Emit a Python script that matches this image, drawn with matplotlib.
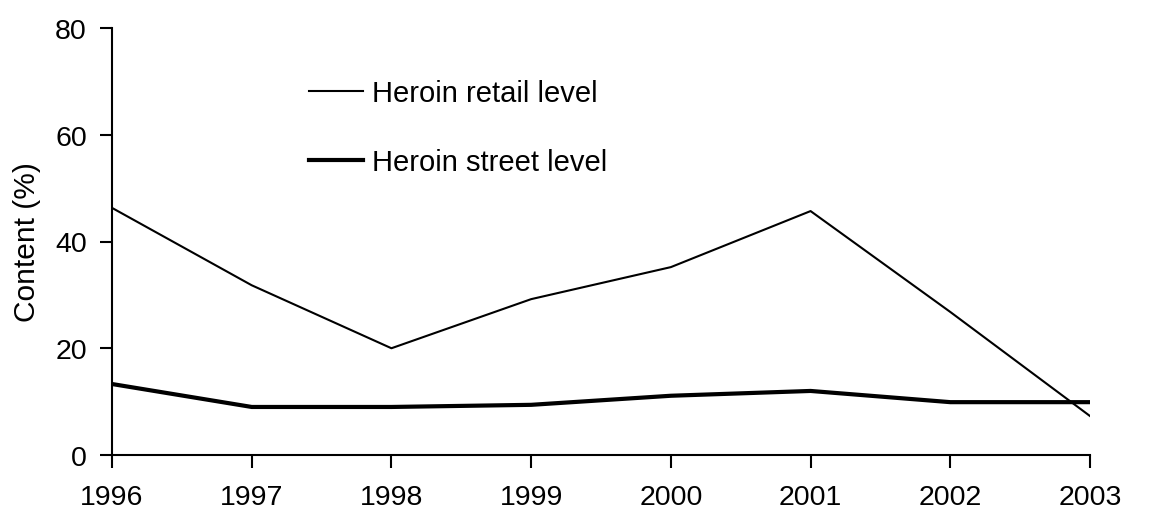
import matplotlib
matplotlib.use('Agg')
import matplotlib.pyplot as plt

plt.rcParams['font.family'] = ['Liberation Sans', 'DejaVu Sans']

# Heroin purity by year
years = [1996, 1997, 1998, 1999, 2000, 2001, 2002, 2003]
retail = [46.3, 31.8, 20.0, 29.2, 35.2, 45.7, 26.8, 7.3]
street = [13.3, 9.0, 9.0, 9.4, 11.1, 12.0, 9.9, 9.9]

fig = plt.figure(figsize=(11.55, 5.10), dpi=100)
ax = fig.add_axes([112 / 1155, 1 - 456 / 510, (1090 - 112) / 1155, (456 - 29) / 510])

ax.plot(years, retail, color='black', lw=1.5, label='Heroin retail level')
ax.plot(years, street, color='black', lw=3.0, label='Heroin street level')

ax.set_xlim(1996, 2003)
ax.set_ylim(0, 80)
ax.set_xticks(years)
ax.set_yticks([0, 20, 40, 60, 80])
ax.tick_params(axis='both', direction='out', length=9, width=1.5, labelsize=20.5)
ax.tick_params(axis='x', pad=12)
ax.tick_params(axis='y', pad=9)
ax.set_ylabel('Content (%)', fontsize=21.5, labelpad=10)

for s in ['top', 'right']:
    ax.spines[s].set_visible(False)
for s in ['left', 'bottom']:
    ax.spines[s].set_linewidth(1.5)

ax.legend(loc='upper left', bbox_to_anchor=(309 / 1155, 1 - 80 / 510),
          bbox_transform=fig.transFigure, frameon=False, fontsize=21,
          handlelength=1.85, handletextpad=0.3, labelspacing=1.4,
          borderpad=0, borderaxespad=0)

fig.savefig('out.png', dpi=100)
